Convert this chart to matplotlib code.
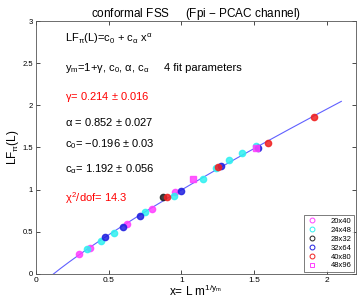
import matplotlib
matplotlib.use("Agg")
import matplotlib.pyplot as plt
import numpy as np
from matplotlib.lines import Line2D

plt.rcParams['font.family'] = ['Liberation Sans', 'DejaVu Sans']
plt.rcParams['mathtext.fontset'] = 'custom'
plt.rcParams['mathtext.rm'] = 'Liberation Sans'
plt.rcParams['mathtext.it'] = 'Liberation Sans'
plt.rcParams['mathtext.bf'] = 'Liberation Sans'

# data
labels = ['20x40', '24x48', '28x32', '32x64', '40x80', '48x96']
x_20 = [0.295, 0.372, 0.625, 0.795, 0.957]
y_20 = [0.234, 0.312, 0.589, 0.771, 0.973]
x_24 = [0.352, 0.45, 0.536, 0.749, 0.952, 1.146, 1.237, 1.329, 1.42, 1.511]
y_24 = [0.297, 0.395, 0.49, 0.731, 0.925, 1.131, 1.254, 1.352, 1.432, 1.522]
x_28 = [0.877]
y_28 = [0.913]
x_32 = [0.473, 0.598, 0.717, 1.0, 1.272, 1.53]
y_32 = [0.435, 0.561, 0.688, 0.988, 1.281, 1.498]
x_40 = [0.899, 1.253, 1.594, 1.915]
y_40 = [0.917, 1.269, 1.55, 1.866]
x_48 = [1.077, 1.511]
y_48 = [1.127, 1.498]

# fit parameters
c0, ca, alpha = -0.196, 1.192, 0.852

fig = plt.figure(figsize=(3.62, 3.0), dpi=100)
ax = fig.add_axes([0.0994, 0.0867, 0.8836, 0.8433])

xf = np.linspace(0.118, 2.1, 200)
ax.plot(xf, c0 + ca * xf**alpha, color='#6060ff', lw=0.8, zorder=1)

series = [(x_20, y_20, '#ff40ff', 'o'), (x_24, y_24, '#30f0f0', 'o'),
          (x_28, y_28, '#202020', 'o'), (x_32, y_32, '#2020e0', 'o'),
          (x_40, y_40, '#f02020', 'o'), (x_48, y_48, '#ff40ff', 's')]
handles = []
for (xs, ys, c, m), lab in zip(series, labels):
    ax.plot(xs, ys, m, color=c, ms=4.5, mec=c, mfc=c, alpha=0.85, zorder=2)
    handles.append(Line2D([], [], ls='none', marker=m, ms=3.5, mec=c, mfc='none', mew=0.7))

leg = ax.legend(handles, labels, loc='lower right', fontsize=5.5, frameon=True,
                fancybox=False, edgecolor='#404040', handletextpad=1.6,
                borderaxespad=0.25, labelspacing=0.2, handlelength=1.5,
                borderpad=0.35)
leg.get_frame().set_linewidth(0.6)

ax.set_xlim(0, 2.2)
ax.set_ylim(0, 3)
ax.set_xticks([0, 0.5, 1, 1.5, 2])
ax.set_xticklabels(['0', '0.5', '1', '1.5', '2'])
ax.set_yticks([0, 0.5, 1, 1.5, 2, 2.5, 3])
ax.set_yticklabels(['0', '0.5', '1', '1.5', '2', '2.5', '3'])
ax.tick_params(direction='in', top=True, right=True, labelsize=6, length=3, width=0.5, pad=2)
ax.tick_params(axis='y', labelsize=5.5)
for s in ax.spines.values():
    s.set_linewidth(0.6)
    s.set_color('#555555')

ax.set_title('conformal FSS     (Fpi $-$ PCAC channel)', fontsize=8.5, pad=3)
ax.set_xlabel(r'x= L m$^{1/y_m}$', fontsize=8.5, labelpad=0)
ax.set_ylabel(r'LF$_\pi$(L)', fontsize=8.5, labelpad=1)

fs = 8
tx = 0.09
ax.text(tx, 0.93, r'LF$_\pi$(L)=c$_0$ + c$_\alpha$ x$^\alpha$', transform=ax.transAxes, fontsize=fs, va='center')
ax.text(tx, 0.815, r'y$_m$=1+$\gamma$, c$_0$, $\alpha$, c$_\alpha$', transform=ax.transAxes, fontsize=fs, va='center')
ax.text(0.4, 0.815, '4 fit parameters', transform=ax.transAxes, fontsize=fs, va='center')
ax.text(tx, 0.70, r'$\gamma$= 0.214 $\pm$ 0.016', transform=ax.transAxes, fontsize=fs, va='center', color='red')
ax.text(tx, 0.60, r'$\alpha$ = 0.852 $\pm$ 0.027', transform=ax.transAxes, fontsize=fs, va='center')
ax.text(tx, 0.515, r'c$_0$= $-$0.196 $\pm$ 0.03', transform=ax.transAxes, fontsize=fs, va='center')
ax.text(tx, 0.415, r'c$_\alpha$= 1.192 $\pm$ 0.056', transform=ax.transAxes, fontsize=fs, va='center')
ax.text(tx, 0.30, r'$\chi^2$/dof= 14.3', transform=ax.transAxes, fontsize=fs, va='center', color='red')

fig.savefig('out.png', dpi=100)
